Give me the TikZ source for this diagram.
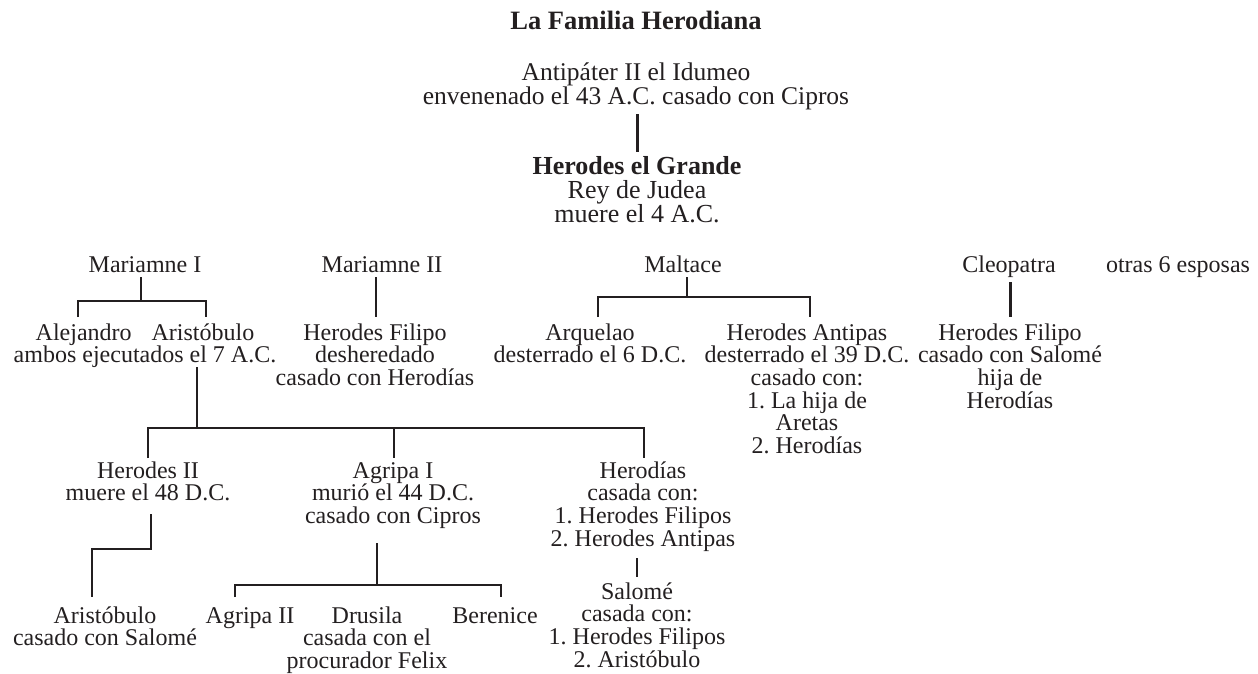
\documentclass[tikz,border=0pt]{standalone}
\usepackage{fontspec}
\setmainfont{Liberation Serif}
\frenchspacing
\definecolor{ink}{RGB}{35,31,32}
\newcommand\fsL{\fontsize{24}{22.6}\selectfont\lineskiplimit=-40pt\lineskip=0pt}
\newcommand\fsT{\fontsize{25.5}{24}\selectfont\lineskiplimit=-40pt\lineskip=0pt}
\newcommand\fsH{\fontsize{26}{24}\selectfont\lineskiplimit=-40pt\lineskip=0pt}
\newcommand\sL{\rule{0pt}{18pt}}
\newcommand\sT{\rule{0pt}{20pt}}
\tikzset{
  lab/.style={font=\fsL, align=center, inner sep=0pt, anchor=north, text=ink},
  one/.style={font=\fsL, inner sep=0pt, anchor=base, text=ink},
  toptxt/.style={font=\fsT, align=center, inner sep=0pt, anchor=north, text=ink},
  conn/.style={draw=ink, line width=2.8pt, line join=miter},
}
\begin{document}
\begin{tikzpicture}[x=1pt,y=-1pt]
\useasboundingbox (0,0) rectangle (1258,673);
% title
\node[one, font=\fontsize{26.5}{26}\selectfont\bfseries] (title) at (636,29) {La Familia Herodiana};
% top
\node[toptxt] (antip) at (636,60.5) {\sT Antipáter II el Idumeo\\envenenado el 43 A.C. casado con Cipros};
\node[toptxt, font=\fsH] (herodes) at (637,154) {\sT\textbf{Herodes el Grande}\\Rey de Judea\\muere el 4 A.C.};
% wives
\node[one] (mar1) at (145,272) {Mariamne I};
\node[one] (mar2) at (382,272) {Mariamne II};
\node[one] (malt) at (683,272) {Maltace};
\node[one] (cleo) at (1009,272) {Cleopatra};
\node[one] (otras) at (1178,272) {otras 6 esposas};
% children
\node[lab] (alej) at (145,322) {\sL Alejandro\hspace{20pt}Aristóbulo\\ambos ejecutados el 7 A.C.};
\node[lab] (hfil) at (375,322) {\sL Herodes Filipo\\desheredado\\casado con Herodías};
\node[lab] (arq) at (590,322) {\sL Arquelao\\desterrado el 6 D.C.};
\node[lab] (hant) at (807,322) {\sL Herodes Antipas\\desterrado el 39 D.C.\\casado con:\\1. La hija de\\Aretas\\2. Herodías};
\node[lab] (hfil2) at (1010,322) {\sL Herodes Filipo\\casado con Salomé\\hija de\\Herodías};
% grandchildren
\node[lab] (her2) at (148,460) {\sL Herodes II\\muere el 48 D.C.};
\node[lab] (agr1) at (393,460) {\sL Agripa I\\murió el 44 D.C.\\casado con Cipros};
\node[lab] (herod) at (643,460) {\sL Herodías\\casada con:\\1. Herodes Filipos\\2. Herodes Antipas};
% great-grandchildren
\node[lab] (arist) at (105,605) {\sL Aristóbulo\\casado con Salomé};
\node[lab] (agr2) at (250,605) {\sL Agripa II};
\node[lab] (drus) at (367,605) {\sL Drusila\\casada con el\\procurador Felix};
\node[lab] (bere) at (495,605) {\sL Berenice};
\node[lab] (salo) at (637,581) {\sL Salomé\\casada con:\\1. Herodes Filipos\\2. Aristóbulo};
% junction coordinates
\coordinate (antipB) at (637.5,114);
\coordinate (herodesT) at (637.5,152);
\coordinate (mar1B) at (141,277);
\coordinate (mar1J) at (141,301);
\coordinate (alejT) at (78,317);
\coordinate (aristT) at (206,317);
\coordinate (mar2B) at (376,277);
\coordinate (hfilT) at (376,317);
\coordinate (maltB) at (687,277);
\coordinate (maltJ) at (687,297);
\coordinate (arqT) at (598,317);
\coordinate (hantT) at (810,317);
\coordinate (cleoB) at (1010.5,282);
\coordinate (hfil2T) at (1010.5,317);
\coordinate (alejB) at (197,367);
\coordinate (alejJ) at (197,428);
\coordinate (her2T) at (148,458);
\coordinate (agr1T) at (394,458);
\coordinate (herodT) at (644,458);
\coordinate (her2B) at (151,514);
\coordinate (her2J) at (92,549);
\coordinate (aristT2) at (92,597);
\coordinate (agr1B) at (377,543);
\coordinate (agr1J) at (377,585);
\coordinate (agr2T) at (235,597);
\coordinate (bereT) at (501,597);
\coordinate (herodB) at (637,558);
\coordinate (saloT) at (637,577);
% connectors
\draw[conn] (antipB) -- (herodesT);
\draw[conn] (mar1B) -- (mar1J);
\draw[conn] (alejT) |- (mar1J) -| (aristT);
\draw[conn] (mar2B) -- (hfilT);
\draw[conn] (maltB) -- (maltJ);
\draw[conn] (arqT) |- (maltJ) -| (hantT);
\draw[conn] (cleoB) -- (hfil2T);
\draw[conn] (alejB) -- (alejJ);
\draw[conn] (her2T) |- (alejJ) -| (herodT);
\draw[conn] (alejJ) -| (agr1T);
\draw[conn] (her2B) |- (her2J) -- (aristT2);
\draw[conn] (agr1B) -- (agr1J);
\draw[conn] (agr2T) |- (agr1J) -| (bereT);
\draw[conn] (herodB) -- (saloT);
\end{tikzpicture}
\end{document}
